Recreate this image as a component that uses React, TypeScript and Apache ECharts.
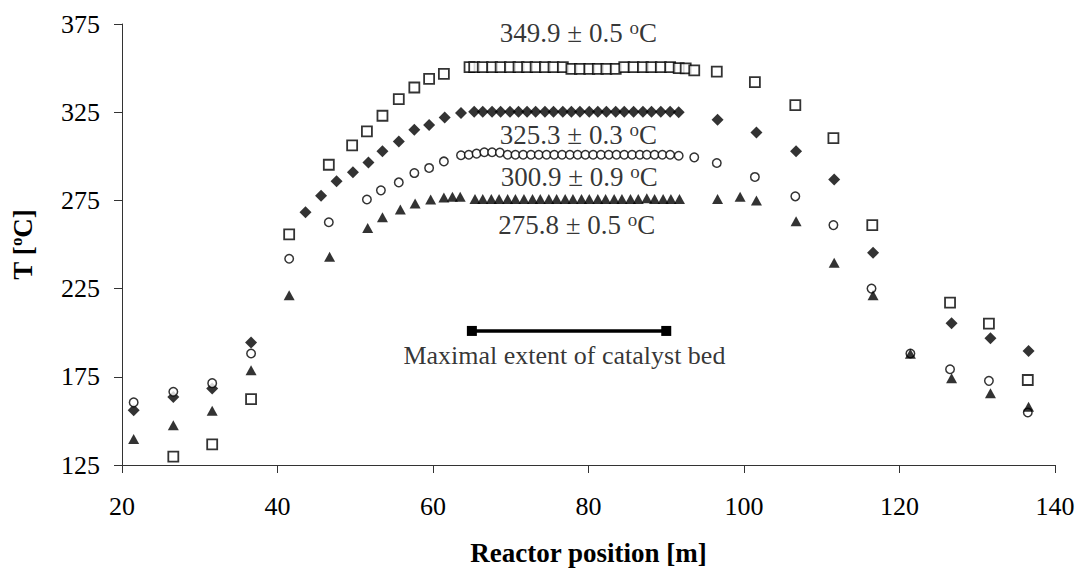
import React, { useEffect, useRef } from "react";
import * as echarts from "echarts";

const xTicks = [20, 40, 60, 80, 100, 120, 140];
const yTicks = [125, 175, 225, 275, 325, 375];

// Series at ~350 °C (open squares)
const squares: [number, number][] = [
  [26.6, 129.7], [31.6, 136.7], [36.6, 162.3], [41.5, 255.7], [46.6, 295.2],
  [49.6, 306.2], [51.5, 314.1], [53.5, 323.0], [55.6, 332.4], [57.6, 339.0],
  [59.5, 343.9], [61.4, 346.7],
  [64.7, 350.6], [65.3, 350.6], [66.4, 350.6], [67.6, 350.6], [68.7, 350.6],
  [69.9, 350.6], [71.0, 350.6], [72.1, 350.6], [73.2, 350.6], [74.4, 350.6],
  [75.5, 350.6], [76.7, 350.6], [77.8, 349.6], [78.9, 349.6], [80.1, 349.6],
  [81.2, 349.6], [82.3, 349.6], [83.5, 349.6], [84.6, 350.5], [85.8, 350.5],
  [87.0, 350.5], [88.1, 350.5], [89.3, 350.5], [90.5, 350.5], [91.6, 350.0],
  [92.5, 349.8], [93.6, 348.7],
  [96.5, 348.0], [101.4, 342.0], [106.6, 329.0], [111.5, 310.3], [116.5, 261.0],
  [126.5, 217.0], [131.5, 205.1], [136.5, 173.2],
];

// Series at ~325 °C (filled diamonds)
const diamonds: [number, number][] = [
  [21.5, 156.1], [26.6, 163.6], [31.6, 168.4], [36.6, 194.4], [43.6, 268.3],
  [45.6, 277.7], [47.6, 285.8], [49.7, 290.9], [51.7, 296.5], [53.5, 302.8],
  [55.6, 308.4], [57.6, 315.0], [59.5, 317.8], [61.5, 322.0], [63.6, 324.5],
  [65.3, 325.3], [66.4, 325.3], [67.6, 325.3], [68.7, 325.3], [69.9, 325.3],
  [71.0, 325.3], [72.1, 325.3], [73.2, 325.3], [74.4, 325.3], [75.5, 325.3],
  [76.7, 325.3], [77.8, 325.3], [78.9, 325.3], [80.1, 325.3], [81.2, 325.3],
  [82.3, 325.3], [83.5, 325.3], [84.6, 325.3], [85.8, 325.3], [87.0, 325.3],
  [88.1, 325.3], [89.3, 325.3], [90.5, 325.3], [91.6, 325.0],
  [96.6, 320.7], [101.6, 313.5], [106.7, 302.8], [111.6, 286.8], [116.6, 245.3],
  [126.7, 205.3], [131.7, 196.8], [136.6, 189.6],
];

// Series at ~300 °C (open circles)
const circles: [number, number][] = [
  [21.5, 160.5], [26.6, 166.5], [31.6, 171.4], [36.6, 188.2], [41.5, 241.9],
  [46.6, 262.6], [51.5, 275.5], [53.3, 280.7], [55.6, 285.2], [57.6, 290.5],
  [59.5, 293.4], [61.4, 297.1],
  [63.6, 300.6], [64.6, 300.9], [65.6, 301.5], [66.6, 302.3], [67.6, 302.3],
  [68.6, 302.1], [69.6, 300.9], [70.6, 300.9], [71.6, 300.9], [72.6, 300.9],
  [73.6, 300.9], [74.6, 300.9], [75.6, 300.9], [76.6, 300.9], [77.6, 300.9],
  [78.6, 300.9], [79.6, 300.9], [80.6, 300.9], [81.6, 300.9], [82.6, 300.9],
  [83.6, 300.9], [84.6, 300.9], [85.6, 300.9], [86.6, 300.9], [87.5, 300.9],
  [88.5, 300.9], [89.5, 300.9], [90.5, 300.9], [91.6, 300.3],
  [93.6, 299.4], [96.5, 296.2], [101.4, 288.3], [106.6, 277.3], [111.5, 261.0],
  [116.4, 225.0], [121.4, 188.2], [126.5, 179.3], [131.5, 172.7], [136.5, 154.8],
];

// Series at ~275 °C (filled triangles)
const triangles: [number, number][] = [
  [21.5, 139.7], [26.6, 147.6], [31.6, 155.7], [36.6, 178.7], [41.5, 221.3],
  [46.7, 243.0], [51.6, 259.4], [53.5, 265.5], [55.8, 269.8], [57.7, 273.2],
  [59.7, 275.5], [61.4, 276.6], [62.5, 277.0], [63.5, 277.0],
  [65.4, 275.8], [66.4, 275.8], [67.5, 275.8], [68.5, 275.8], [69.6, 275.8],
  [70.6, 275.8], [71.7, 275.8], [72.8, 275.8], [73.8, 275.8], [74.9, 275.8],
  [75.9, 275.8], [77.0, 275.8], [78.0, 275.8], [79.1, 275.8], [80.1, 275.8],
  [81.2, 275.8], [82.2, 275.8], [83.3, 275.8], [84.3, 275.8], [85.4, 275.8],
  [86.4, 275.8], [87.5, 276.2], [88.5, 275.8], [89.6, 275.8], [90.6, 275.8],
  [91.7, 275.8],
  [96.6, 275.8], [99.5, 277.0], [101.6, 275.0], [106.7, 263.2], [111.6, 239.6],
  [116.6, 221.2], [121.4, 188.0], [126.7, 174.2], [131.7, 165.7], [136.6, 158.0],
];

// Catalyst bed extent
const bedExtent: [number, number][] = [[65, 201], [90, 201]];

// Annotation labels
const annotations: { value: [number, number]; text: string; sup: boolean }[] = [
  { value: [78.7, 369.9], text: "349.9 ± 0.5 ", sup: true },
  { value: [78.7, 312.2], text: "325.3 ± 0.3 ", sup: true },
  { value: [78.8, 288.2], text: "300.9 ± 0.9 ", sup: true },
  { value: [78.5, 260.9], text: "275.8 ± 0.5 ", sup: true },
  { value: [76.9, 187.2], text: "Maximal extent of catalyst bed", sup: false },
];

const FONT = "'Liberation Serif', 'Times New Roman', serif";

export default function App() {
  const ref = useRef<HTMLDivElement>(null);
  useEffect(() => {
    if (!ref.current) return;
    const chart = echarts.init(ref.current, null, { renderer: "svg" });
    const axisLineColor = "#333";
    const option: any = {
      animation: false,
      backgroundColor: "#fff",
      textStyle: { fontFamily: FONT },
      grid: { left: 118.5, right: 23, top: 24, bottom: 105, containLabel: false },
      xAxis: {
        type: "value",
        min: 20,
        max: 140,
        interval: 20,
        name: "Reactor position [m]",
        nameLocation: "middle",
        nameGap: 74,
        nameTextStyle: { fontFamily: FONT, fontSize: 27, fontWeight: "bold", color: "#000" },
        axisLine: { show: true, onZero: false, lineStyle: { color: axisLineColor, width: 1 } },
        axisTick: { show: true, length: 8, lineStyle: { color: axisLineColor } },
        axisLabel: {
          fontFamily: FONT, fontSize: 26, color: "#000", margin: 28,
          customValues: xTicks,
        },
        splitLine: { show: false },
      },
      yAxis: {
        type: "value",
        min: 125,
        max: 375,
        name: "{b|T [}{s|o}{b|C]}",
        nameLocation: "middle",
        nameGap: 84,
        nameRotate: 90,
        nameTextStyle: {
          fontFamily: FONT, fontSize: 27, fontWeight: "bold", color: "#000",
          rich: {
            b: { fontFamily: FONT, fontSize: 27, fontWeight: "bold", color: "#000", lineHeight: 30 },
            s: { fontFamily: FONT, fontSize: 17, fontWeight: "bold", color: "#000", lineHeight: 17, verticalAlign: "top" },
          },
        },
        axisLine: { show: true, onZero: false, lineStyle: { color: axisLineColor, width: 1 } },
        axisTick: { show: true, length: 8, lineStyle: { color: axisLineColor }, customValues: yTicks },
        axisLabel: {
          fontFamily: FONT, fontSize: 26, color: "#000", margin: 22,
          customValues: yTicks,
        },
        splitLine: { show: false },
      },
      series: [
        {
          type: "scatter",
          data: squares,
          symbol: "rect",
          symbolSize: 10,
          itemStyle: { color: "#fff", borderColor: "#000", borderWidth: 1.8 },
          z: 2,
        },
        {
          type: "scatter",
          data: diamonds,
          symbol: "diamond",
          symbolSize: [12, 12],
          itemStyle: { color: "#000" },
          z: 3,
        },
        {
          type: "scatter",
          data: circles,
          symbol: "circle",
          symbolSize: 8.5,
          itemStyle: { color: "#fff", borderColor: "#000", borderWidth: 1.5 },
          z: 4,
        },
        {
          type: "scatter",
          data: triangles,
          symbol: "triangle",
          symbolSize: [11, 10],
          itemStyle: { color: "#000" },
          z: 5,
        },
        {
          type: "line",
          data: bedExtent,
          symbol: "rect",
          symbolSize: 10,
          showSymbol: true,
          lineStyle: { color: "#000", width: 3.5 },
          itemStyle: { color: "#000" },
          z: 6,
        },
        {
          type: "scatter",
          symbolSize: 0,
          silent: true,
          z: 7,
          data: annotations.map((a) => ({
            value: a.value,
            label: {
              show: true,
              position: "inside",
              formatter: a.sup ? `{m|${a.text}}{s|o}{m|C}` : `{n|${a.text}}`,
              rich: {
                m: { fontFamily: FONT, fontSize: 27, color: "#000", lineHeight: 30 },
                n: { fontFamily: FONT, fontSize: 26, color: "#000", lineHeight: 30 },
                s: { fontFamily: FONT, fontSize: 19, color: "#000", lineHeight: 17, verticalAlign: "top" },
              },
            },
          })),
        },
      ],
    };
    chart.setOption(option);
    return () => chart.dispose();
  }, []);
  return (
    <div
      ref={ref}
      style={{ position: "fixed", left: 0, top: 0, width: 1078, height: 571, background: "#fff" }}
    />
  );
}
